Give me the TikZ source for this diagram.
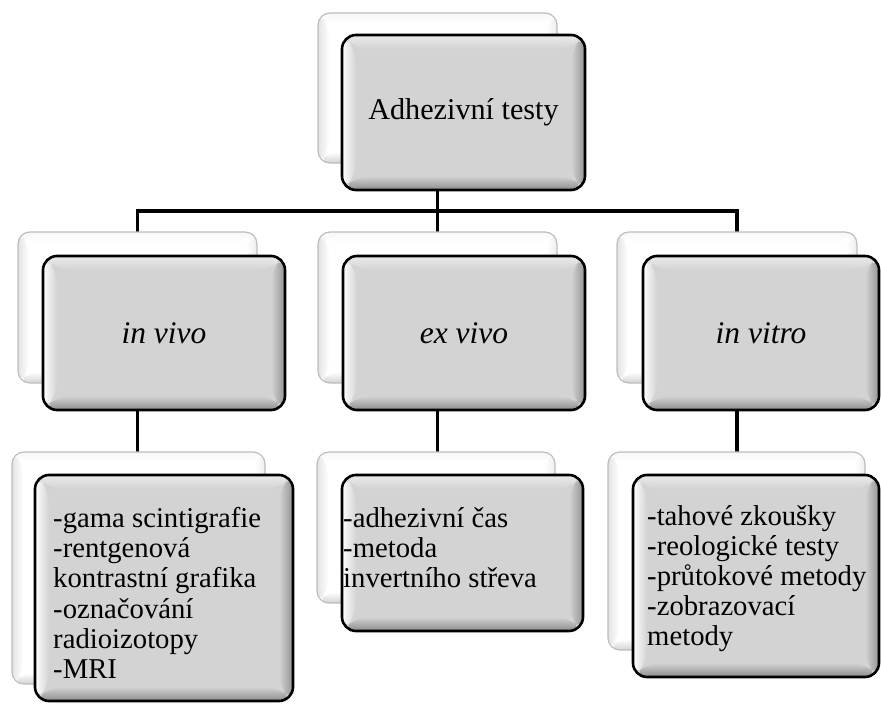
\documentclass[tikz,border=0pt]{standalone}
\usepackage{fontspec}
\setmainfont{Liberation Serif}
\usetikzlibrary{calc}
\definecolor{boxgray}{HTML}{D3D3D3}
\definecolor{backline}{HTML}{BDBDBD}
\newcommand\bevelpic[6]{%
  \coordinate (pnw) at (path picture bounding box.north west);
  \coordinate (pne) at (path picture bounding box.north east);
  \coordinate (psw) at (path picture bounding box.south west);
  \coordinate (pse) at (path picture bounding box.south east);
  \fill[#6] (pnw) rectangle (pse);
  \shade[top color=#2, bottom color=#6] (pnw) -- (pne) -- ([shift={(-#1,-#1)}]pne) -- ([shift={(#1,-#1)}]pnw) -- cycle;
  \shade[left color=#3, right color=#6] (pnw) -- ([shift={(#1,-#1)}]pnw) -- ([shift={(#1,#1)}]psw) -- (psw) -- cycle;
  \shade[left color=#6, right color=#4] (pne) -- (pse) -- ([shift={(-#1,#1)}]pse) -- ([shift={(-#1,-#1)}]pne) -- cycle;
  \shade[top color=#6, bottom color=#5] (psw) -- ([shift={(#1,#1)}]psw) -- ([shift={(-#1,#1)}]pse) -- (pse) -- cycle;
}
\tikzset{
  backbox/.style={draw=backline, line width=1.2pt, rounded corners=12pt, inner sep=0pt,
    path picture={\bevelpic{11pt}{gray!6}{gray!22}{gray!14}{gray!35}{white}}},
  frontbox/.style={draw=black, line width=2.6pt, rounded corners=14pt, inner sep=0pt,
    path picture={\bevelpic{14pt}{black!8}{white}{black!42}{black!45}{boxgray}}},
  anchorbox/.style={inner sep=0pt, outer sep=0pt},
  conn/.style={draw=black, line width=3.8pt},
  toplabel/.style={font=\fontsize{30.2}{33}\selectfont},
  midlabel/.style={font=\fontsize{31.5}{34}\selectfont\itshape},
  listtext/.style={font=\fontsize{28.7}{30.2}\selectfont,
    align=left, anchor=north west, inner sep=0pt},
}
\begin{document}
\begin{tikzpicture}[x=1pt,y=-1pt]
\lineskiplimit=-100pt
\useasboundingbox (0,0) rectangle (881,704);

% invisible anchors of the back boxes (connector ends)
\node[anchorbox, minimum width=239pt, minimum height=150pt] (b0) at (437.5,88) {};
\node[anchorbox, minimum width=239pt, minimum height=151pt] (b1) at (137.5,307.5) {};
\node[anchorbox, minimum width=239pt, minimum height=151pt] (b2) at (437.5,307.5) {};
\node[anchorbox, minimum width=240pt, minimum height=151pt] (b3) at (737,307.5) {};
\node[anchorbox, minimum width=253pt, minimum height=232pt] (c1) at (138.5,568) {};
\node[anchorbox, minimum width=238pt, minimum height=151pt] (c2) at (436,527.5) {};
\node[anchorbox, minimum width=257pt, minimum height=198pt] (c3) at (736.5,551) {};
\coordinate (hub) at (437.5,211);

% connectors (behind boxes)
\draw[conn] (b0.south) -- (hub);
\draw[conn] (b1.north) |- (hub) -| (b3.north);
\draw[conn] (hub) -- (b2.north);
\draw[conn] (b1.south) -- (b1.south |- c1.north);
\draw[conn] (b2.south) -- (b2.south |- c2.north);
\draw[conn] (b3.south) -- (b3.south |- c3.north);

% back boxes
\node[backbox, minimum width=239pt, minimum height=150pt] (bb0) at (b0) {};
\node[backbox, minimum width=239pt, minimum height=151pt] (bb1) at (b1) {};
\node[backbox, minimum width=239pt, minimum height=151pt] (bb2) at (b2) {};
\node[backbox, minimum width=240pt, minimum height=151pt] (bb3) at (b3) {};
\node[backbox, minimum width=253pt, minimum height=232pt] (cc1) at (c1) {};
\node[backbox, minimum width=238pt, minimum height=151pt] (cc2) at (c2) {};
\node[backbox, minimum width=257pt, minimum height=198pt] (cc3) at (c3) {};

% front boxes
\node[frontbox, minimum width=243pt, minimum height=155pt] (f0) at (463.5,112.5) {};
\node[frontbox, minimum width=242pt, minimum height=154pt] (f1) at (164,333) {};
\node[frontbox, minimum width=242pt, minimum height=154pt] (f2) at (464,333) {};
\node[frontbox, minimum width=236pt, minimum height=154pt] (f3) at (761,333) {};
\node[frontbox, minimum width=258pt, minimum height=226pt] (g1) at (164,588) {};
\node[frontbox, minimum width=241pt, minimum height=156pt] (g2) at (462.5,553) {};
\node[frontbox, minimum width=246pt, minimum height=202pt] (g3) at (756,576) {};

% labels
\node[toplabel] (l0) at (f0) {Adhezivní testy};
\node[midlabel] (l1) at (f1) {in vivo};
\node[midlabel] (l2) at (f2) {ex vivo};
\node[midlabel] (l3) at (f3) {in vitro};

\node[listtext] (t1) at (53,507) {-gama scintigrafie\\-rentgenová\\kontrastní grafika\\-označování\\radioizotopy\\-MRI};
\node[listtext] (t2) at (343,507) {-adhezivní čas\\-metoda\\invertního střeva};
\node[listtext] (t3) at (647,505) {-tahové zkoušky\\-reologické testy\\-průtokové metody\\-zobrazovací\\metody};
\end{tikzpicture}
\end{document}
